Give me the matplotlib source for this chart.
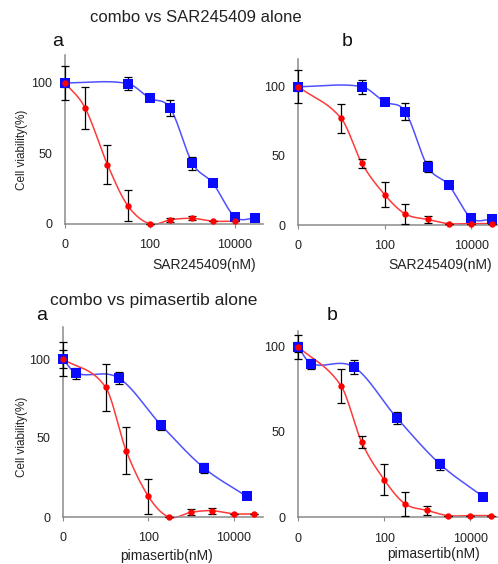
import numpy as np
import matplotlib
matplotlib.use("Agg")
import matplotlib.pyplot as plt
from matplotlib.ticker import FixedLocator, FixedFormatter, NullLocator

plt.rcParams['font.family'] = ['Liberation Sans', 'DejaVu Sans']

# ---------------- data (dose in nM, viability in %) ----------------
# combo vs SAR245409 alone, panel a
sar_a_combo_dose = [0, 3, 10, 30, 100, 300, 1000, 3000, 10000]
sar_a_combo_val = [100, 82, 42, 13, 0, 3, 4, 2, 2]
sar_a_combo_err = [12, 15, 14, 11, 0, 1.5, 1.5, 0, 0]
sar_a_single_dose = [0, 30, 100, 300, 1000, 3000, 10000, 30000]
sar_a_single_val = [100, 99.5, 89, 82, 43, 29, 5, 4]
sar_a_single_err = [3, 4.5, 0, 5.5, 4.5, 0, 0, 0]

# combo vs SAR245409 alone, panel b
sar_b_combo_dose = [0, 10, 30, 100, 300, 1000, 3000, 10000, 30000]
sar_b_combo_val = [100, 77, 44.5, 22, 8, 4, 1, 1, 1]
sar_b_combo_err = [12, 10.5, 3.5, 9, 7, 2.5, 0, 0, 0]
sar_b_single_dose = [0, 30, 100, 300, 1000, 3000, 10000, 30000]
sar_b_single_val = [100, 100, 89, 82, 42, 29, 5, 4]
sar_b_single_err = [3, 5, 0, 6, 4, 0, 0, 0]

# combo vs pimasertib alone, panel a
pim_a_combo_dose = [0, 10, 30, 100, 300, 1000, 3000, 10000, 30000]
pim_a_combo_val = [100, 82, 42, 13, 0, 3, 4, 2, 2]
pim_a_combo_err = [11, 15, 15, 11, 0, 2, 2, 0, 0]
pim_a_single_dose = [0, 2, 20, 200, 2000, 20000]
pim_a_single_val = [100, 91, 88, 58, 31, 13]
pim_a_single_err = [6, 3.5, 4, 3, 3, 0]

# combo vs pimasertib alone, panel b
pim_b_combo_dose = [0, 10, 30, 100, 300, 1000, 3000, 10000, 30000]
pim_b_combo_val = [100, 77, 44, 22, 8, 4, 1, 1, 1]
pim_b_combo_err = [7, 10, 3.5, 9, 7, 2.5, 0, 0, 0]
pim_b_single_dose = [0, 2, 20, 200, 2000, 20000]
pim_b_single_val = [100, 90, 88, 58, 31, 12]
pim_b_single_err = [3, 3, 4, 3.5, 3, 0]

x_ticks = [0, 100, 10000]
x_tick_labels = ["0", "100", "10000"]
y_ticks = [0, 50, 100]
y_tick_labels = ["0", "50", "100"]

# ---------------- helpers ----------------
W, H = 498, 564


def to_pos(c):
    c = np.asarray(c, float)
    return np.where(c > 0, np.log10(np.maximum(c, 1e-12)), 0.0)


def to_dose(p):
    p = np.asarray(p, float)
    return np.where(p > 0, 10 ** p, 0.0)


def smooth(dose, val, n=40):
    x = to_pos(dose)
    y = np.asarray(val, float)
    m = np.zeros_like(y)
    m[0] = (y[1] - y[0]) / (x[1] - x[0])
    m[-1] = (y[-1] - y[-2]) / (x[-1] - x[-2])
    for i in range(1, len(x) - 1):
        m[i] = (y[i + 1] - y[i - 1]) / (x[i + 1] - x[i - 1])
    xs, ys = [], []
    for i in range(len(x) - 1):
        h = x[i + 1] - x[i]
        t = np.linspace(0, 1, n)
        h00 = 2 * t**3 - 3 * t**2 + 1
        h10 = t**3 - 2 * t**2 + t
        h01 = -2 * t**3 + 3 * t**2
        h11 = t**3 - t**2
        xs.append(x[i] + t * h)
        ys.append(h00 * y[i] + h10 * h * m[i] + h01 * y[i + 1] + h11 * h * m[i + 1])
    return to_dose(np.concatenate(xs)), np.concatenate(ys)


def make_axes(fig, left, right, top, bottom):
    return fig.add_axes([left / W, 1 - bottom / H, (right - left) / W, (bottom - top) / H])


BLUE_M = '#0a0aff'
BLUE_L = '#5050ff'
RED_M = '#ff0000'
RED_L = '#ff3a3a'
GRAY = '#8a8a8a'


def panel(ax, combo, single, xmax_pos, ymax):
    ax.set_xscale('symlog', linthresh=1, linscale=1e-4)
    for dose, val, err, lc, mc, mk, ms in [
        (single[0], single[1], single[2], BLUE_L, BLUE_M, 's', 6.6),
        (combo[0], combo[1], combo[2], RED_L, RED_M, 'o', 4.6),
    ]:
        sx, sy = smooth(dose, val)
        ax.plot(sx, sy, color=lc, lw=1.1, zorder=2, clip_on=False)
        ax.errorbar(dose, val, yerr=err, fmt='none', ecolor='black', elinewidth=0.9,
                    capsize=2.8, capthick=0.9, zorder=3, clip_on=False)
        ax.plot(dose, val, linestyle='none', marker=mk, ms=ms, color=mc,
                markeredgewidth=0, zorder=4, clip_on=False)
    ax.set_xlim(0, 10 ** xmax_pos)
    ax.set_ylim(0, ymax)
    ax.xaxis.set_major_locator(FixedLocator(x_ticks))
    ax.xaxis.set_major_formatter(FixedFormatter(x_tick_labels))
    ax.xaxis.set_minor_locator(NullLocator())
    ax.yaxis.set_major_locator(FixedLocator(y_ticks))
    ax.yaxis.set_major_formatter(FixedFormatter(y_tick_labels))
    ax.yaxis.set_minor_locator(NullLocator())
    for s in ['top', 'right']:
        ax.spines[s].set_visible(False)
    for s in ['left', 'bottom']:
        ax.spines[s].set_color(GRAY)
        ax.spines[s].set_linewidth(1.1)
    ax.tick_params(axis='x', length=3, width=0.8, color=GRAY, pad=8,
                   labelsize=9, labelcolor='#222222')
    ax.tick_params(axis='y', length=0, pad=9, labelsize=9, labelcolor='#222222')
    ax.patch.set_alpha(0)


fig = plt.figure(figsize=(W / 100, H / 100), dpi=100)

ax1 = make_axes(fig, 65, 263, 54.6, 224)
panel(ax1, (sar_a_combo_dose, sar_a_combo_val, sar_a_combo_err),
      (sar_a_single_dose, sar_a_single_val, sar_a_single_err), 4.66, 120)

ax2 = make_axes(fig, 298, 498, 59, 225)
panel(ax2, (sar_b_combo_dose, sar_b_combo_val, sar_b_combo_err),
      (sar_b_single_dose, sar_b_single_val, sar_b_single_err), 4.62, 120)

ax3 = make_axes(fig, 63, 263, 327.4, 517)
panel(ax3, (pim_a_combo_dose, pim_a_combo_val, pim_a_combo_err),
      (pim_a_single_dose, pim_a_single_val, pim_a_single_err), 4.68, 120)

ax4 = make_axes(fig, 298, 498, 331.3, 517.3)
panel(ax4, (pim_b_combo_dose, pim_b_combo_val, pim_b_combo_err),
      (pim_b_single_dose, pim_b_single_val, pim_b_single_err), 4.64, 109)


def ftext(x, y, s, **kw):
    fig.text(x / W, 1 - y / H, s, **kw)


ftext(90, 17, "combo vs SAR245409 alone", fontsize=12, ha='left', va='center', color='#222222')
ftext(50, 301, "combo vs pimasertib alone", fontsize=12.5, ha='left', va='center', color='#222222')
ftext(58, 41, "a", fontsize=14, ha='center', va='center', color='#111111')
ftext(347, 41, "b", fontsize=14, ha='center', va='center', color='#111111')
ftext(42, 315, "a", fontsize=14, ha='center', va='center', color='#111111')
ftext(332, 315, "b", fontsize=14, ha='center', va='center', color='#111111')
ftext(22, 150, "Cell viability(%)", fontsize=8.5, rotation=90, ha='center', va='center', color='#222222')
ftext(22, 437, "Cell viability(%)", fontsize=8.5, rotation=90, ha='center', va='center', color='#222222')
ftext(204, 265, "SAR245409(nM)", fontsize=10, ha='center', va='center', color='#222222')
ftext(440, 265, "SAR245409(nM)", fontsize=10, ha='center', va='center', color='#222222')
ftext(167, 556, "pimasertib(nM)", fontsize=10, ha='center', va='center', color='#222222')
ftext(434, 554, "pimasertib(nM)", fontsize=10, ha='center', va='center', color='#222222')

fig.savefig("out.png", dpi=100)
